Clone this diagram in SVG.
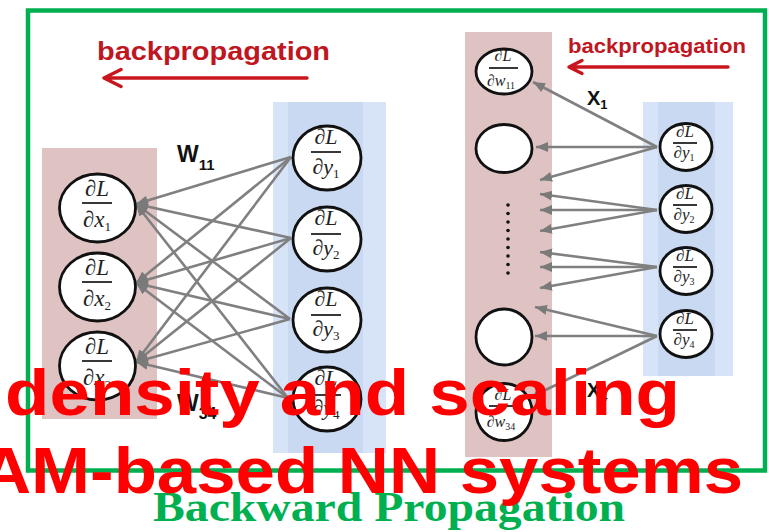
<svg xmlns="http://www.w3.org/2000/svg" width="769" height="532" viewBox="0 0 769 532">
  <style>
    .pink { fill: #dfc3c3; }
    .blue-out { fill: #d7e3f6; }
    .blue-in { fill: #c9d9f2; }
    .node { fill: #ffffff; stroke: #111111; stroke-width: 2.8; }
    .frac { font-family: "Liberation Serif", "Times New Roman", serif; fill: #222222; text-anchor: middle; }
    .frac .v { font-style: italic; }
    .bar { stroke: #222222; stroke-width: 1.8; }
    .edge { stroke: #808080; stroke-width: 2.6; fill: none; marker-end: url(#tip); }
    .bp-text { font-family: "Liberation Sans", Arial, sans-serif; font-weight: bold; fill: #c0161f; }
    .bp-arrow { stroke: #c8161c; stroke-width: 3.4; fill: none; stroke-linecap: round; stroke-linejoin: round; }
    .wlabel { font-family: "Liberation Sans", Arial, sans-serif; font-weight: bold; fill: #111111; }
    .overlay { font-family: "Liberation Sans", Arial, sans-serif; font-weight: bold; font-size: 65px; fill: #ff0000; }
    .caption { font-family: "Liberation Serif", "Times New Roman", serif; font-weight: bold; font-size: 42px; fill: #00b050; }
  </style>
  <defs>
    <marker id="tip" markerUnits="userSpaceOnUse" markerWidth="13" markerHeight="11" refX="12" refY="5.5" orient="auto">
      <path d="M0,0.5 L12,5.5 L0,10.5 z" fill="#7a7a7a"/>
    </marker>
  </defs>

  <rect width="769" height="532" fill="#ffffff"/>

  <!-- column backgrounds -->
  <g id="columns">
    <rect class="pink" x="42" y="148" width="115" height="271"/>
    <rect class="blue-out" x="273" y="102" width="113" height="351"/>
    <rect class="blue-in" x="288" y="102" width="75" height="351"/>
    <rect class="pink" x="465" y="32" width="87" height="425"/>
    <rect class="blue-out" x="643" y="102" width="90" height="274"/>
    <rect class="blue-in" x="658" y="102" width="57" height="274"/>
  </g>

  <!-- outer frame -->
  <rect id="frame" x="28" y="10.5" width="737" height="460" fill="none" stroke="#00b050" stroke-width="4.5"/>

  <!-- direction arrows -->
  <g id="backprop-left">
    <text class="bp-text" x="97" y="60" font-size="25" textLength="233" lengthAdjust="spacingAndGlyphs">backpropagation</text>
    <path class="bp-arrow" d="M307,78 L104,78 M121,69.5 L104,78 L121,86.5"/>
  </g>
  <g id="backprop-right">
    <text class="bp-text" x="568" y="53" font-size="21" textLength="178" lengthAdjust="spacingAndGlyphs">backpropagation</text>
    <path class="bp-arrow" d="M728,67 L569,67 M582,60.5 L569,67 L582,73.5" stroke-width="3"/>
  </g>

  <!-- connectors -->
  <g id="connectors">
    <!-- dL/dy -> dL/dx -->
    <path class="edge" d="M291,157 L136,204"/>
    <path class="edge" d="M291,157 L136,283"/>
    <path class="edge" d="M291,157 L136,362"/>
    <path class="edge" d="M291,238 L136,204"/>
    <path class="edge" d="M291,238 L136,283"/>
    <path class="edge" d="M291,238 L136,362"/>
    <path class="edge" d="M290,319 L136,204"/>
    <path class="edge" d="M290,319 L136,283"/>
    <path class="edge" d="M290,319 L136,362"/>
    <path class="edge" d="M288,398 L136,204"/>
    <path class="edge" d="M288,398 L136,283"/>
    <path class="edge" d="M288,398 L136,362"/>
    <!-- dL/dy -> dL/dw -->
    <path class="edge" d="M657,147 L533,82"/>
    <path class="edge" d="M657,147 L536,147"/>
    <path class="edge" d="M657,147 L540,180"/>
    <path class="edge" d="M657,210 L540,194"/>
    <path class="edge" d="M657,210 L540,210"/>
    <path class="edge" d="M657,210 L540,231"/>
    <path class="edge" d="M657,267 L540,252"/>
    <path class="edge" d="M657,267 L540,267"/>
    <path class="edge" d="M657,267 L540,288"/>
    <path class="edge" d="M657,336 L535,307"/>
    <path class="edge" d="M657,336 L535,336"/>
    <path class="edge" d="M657,336 L531,397"/>
  </g>

  <!-- weight / input labels -->
  <text class="wlabel" x="177" y="162" font-size="23">W<tspan font-size="15" dy="8">11</tspan></text>
  <text class="wlabel" x="177" y="411" font-size="23">W<tspan font-size="16" dy="8">34</tspan></text>
  <text class="wlabel" x="587" y="105" font-size="20">X<tspan font-size="13" dy="4">1</tspan></text>
  <text class="wlabel" x="587" y="397" font-size="20">X<tspan font-size="13" dy="4">4</tspan></text>

  <!-- input-gradient nodes -->
  <g id="node-x1">
    <ellipse class="node" cx="97.5" cy="208" rx="38" ry="34"/>
    <text class="frac" x="97" y="196" font-size="23">∂<tspan class="v">L</tspan></text>
    <line class="bar" x1="82" y1="203" x2="112" y2="203"/>
    <text class="frac" x="97" y="227" font-size="23">∂<tspan class="v">x</tspan><tspan font-size="13" dy="4">1</tspan></text>
  </g>
  <g id="node-x2">
    <ellipse class="node" cx="97.5" cy="287" rx="38" ry="34"/>
    <text class="frac" x="97" y="275" font-size="23">∂<tspan class="v">L</tspan></text>
    <line class="bar" x1="82" y1="282" x2="112" y2="282"/>
    <text class="frac" x="97" y="306" font-size="23">∂<tspan class="v">x</tspan><tspan font-size="13" dy="4">2</tspan></text>
  </g>
  <g id="node-x3">
    <ellipse class="node" cx="97.5" cy="366" rx="38" ry="34"/>
    <text class="frac" x="97" y="354" font-size="23">∂<tspan class="v">L</tspan></text>
    <line class="bar" x1="82" y1="361" x2="112" y2="361"/>
    <text class="frac" x="97" y="385" font-size="23">∂<tspan class="v">x</tspan><tspan font-size="13" dy="4">3</tspan></text>
  </g>

  <!-- output-gradient nodes, left part -->
  <g id="node-y1">
    <ellipse class="node" cx="327" cy="158" rx="34" ry="32"/>
    <text class="frac" x="326" y="144" font-size="22">∂<tspan class="v">L</tspan></text>
    <line class="bar" x1="311" y1="152" x2="341" y2="152"/>
    <text class="frac" x="326" y="174" font-size="22">∂<tspan class="v">y</tspan><tspan font-size="13" dy="4">1</tspan></text>
  </g>
  <g id="node-y2">
    <ellipse class="node" cx="327" cy="239" rx="34" ry="32"/>
    <text class="frac" x="326" y="225" font-size="22">∂<tspan class="v">L</tspan></text>
    <line class="bar" x1="311" y1="234" x2="341" y2="234"/>
    <text class="frac" x="326" y="255" font-size="22">∂<tspan class="v">y</tspan><tspan font-size="13" dy="4">2</tspan></text>
  </g>
  <g id="node-y3">
    <ellipse class="node" cx="327" cy="320" rx="34" ry="32"/>
    <text class="frac" x="326" y="306" font-size="22">∂<tspan class="v">L</tspan></text>
    <line class="bar" x1="311" y1="315" x2="341" y2="315"/>
    <text class="frac" x="326" y="336" font-size="22">∂<tspan class="v">y</tspan><tspan font-size="13" dy="4">3</tspan></text>
  </g>
  <g id="node-y4">
    <ellipse class="node" cx="327" cy="399" rx="34" ry="32"/>
    <text class="frac" x="326" y="385" font-size="22">∂<tspan class="v">L</tspan></text>
    <line class="bar" x1="311" y1="395" x2="341" y2="395"/>
    <text class="frac" x="326" y="415" font-size="22">∂<tspan class="v">y</tspan><tspan font-size="13" dy="4">4</tspan></text>
  </g>

  <!-- weight-gradient nodes -->
  <g id="node-w11">
    <ellipse class="node" cx="504" cy="71.5" rx="28" ry="22.5"/>
    <text class="frac" x="503" y="61" font-size="16">∂<tspan class="v">L</tspan></text>
    <line class="bar" x1="489" y1="68" x2="518" y2="68" stroke-width="1.5"/>
    <text class="frac" x="501" y="86" font-size="16">∂<tspan class="v">w</tspan><tspan font-size="10" dy="3">11</tspan></text>
  </g>
  <g id="node-w12">
    <ellipse class="node" cx="504" cy="148.5" rx="28" ry="24"/>
  </g>
  <g id="node-dots" fill="#111111">
    <circle cx="508" cy="205" r="1.8"/>
    <circle cx="508" cy="213.5" r="1.8"/>
    <circle cx="508" cy="222" r="1.8"/>
    <circle cx="508" cy="230.5" r="1.8"/>
    <circle cx="508" cy="239" r="1.8"/>
    <circle cx="508" cy="247.5" r="1.8"/>
    <circle cx="508" cy="256" r="1.8"/>
    <circle cx="508" cy="264.5" r="1.8"/>
    <circle cx="508" cy="273" r="1.8"/>
  </g>
  <g id="node-w33">
    <ellipse class="node" cx="504" cy="337" rx="28" ry="28"/>
  </g>
  <g id="node-w34">
    <ellipse class="node" cx="504" cy="412" rx="28" ry="28.5"/>
    <text class="frac" x="503" y="400" font-size="16">∂<tspan class="v">L</tspan></text>
    <line class="bar" x1="489" y1="406" x2="518" y2="406" stroke-width="1.5"/>
    <text class="frac" x="501" y="427" font-size="16">∂<tspan class="v">w</tspan><tspan font-size="10" dy="3">34</tspan></text>
  </g>

  <!-- output-gradient nodes, right part -->
  <g id="node-ry1">
    <ellipse class="node" cx="686" cy="147" rx="26" ry="23.5" stroke-width="2.5"/>
    <text class="frac" x="685" y="137" font-size="17">∂<tspan class="v">L</tspan></text>
    <line class="bar" x1="673" y1="143" x2="697" y2="143" stroke-width="1.5"/>
    <text class="frac" x="684" y="158" font-size="17">∂<tspan class="v">y</tspan><tspan font-size="10" dy="3">1</tspan></text>
  </g>
  <g id="node-ry2">
    <ellipse class="node" cx="686" cy="209" rx="26" ry="23.5" stroke-width="2.5"/>
    <text class="frac" x="685" y="199" font-size="17">∂<tspan class="v">L</tspan></text>
    <line class="bar" x1="673" y1="205" x2="697" y2="205" stroke-width="1.5"/>
    <text class="frac" x="684" y="220" font-size="17">∂<tspan class="v">y</tspan><tspan font-size="10" dy="3">2</tspan></text>
  </g>
  <g id="node-ry3">
    <ellipse class="node" cx="686" cy="271" rx="26" ry="23.5" stroke-width="2.5"/>
    <text class="frac" x="685" y="261" font-size="17">∂<tspan class="v">L</tspan></text>
    <line class="bar" x1="673" y1="267" x2="697" y2="267" stroke-width="1.5"/>
    <text class="frac" x="684" y="282" font-size="17">∂<tspan class="v">y</tspan><tspan font-size="10" dy="3">3</tspan></text>
  </g>
  <g id="node-ry4">
    <ellipse class="node" cx="686" cy="334" rx="26" ry="23.5" stroke-width="2.5"/>
    <text class="frac" x="685" y="324" font-size="17">∂<tspan class="v">L</tspan></text>
    <line class="bar" x1="673" y1="330" x2="697" y2="330" stroke-width="1.5"/>
    <text class="frac" x="684" y="345" font-size="17">∂<tspan class="v">y</tspan><tspan font-size="10" dy="3">4</tspan></text>
  </g>

  <!-- caption -->
  <text class="caption" x="153" y="521" textLength="472" lengthAdjust="spacingAndGlyphs">Backward Propagation</text>

  <!-- headline lettering on top -->
  <text class="overlay" x="5" y="415" textLength="675" lengthAdjust="spacingAndGlyphs">density and scaling</text>
  <text class="overlay" x="-20" y="493" textLength="763" lengthAdjust="spacingAndGlyphs">AM-based NN systems</text>
</svg>
